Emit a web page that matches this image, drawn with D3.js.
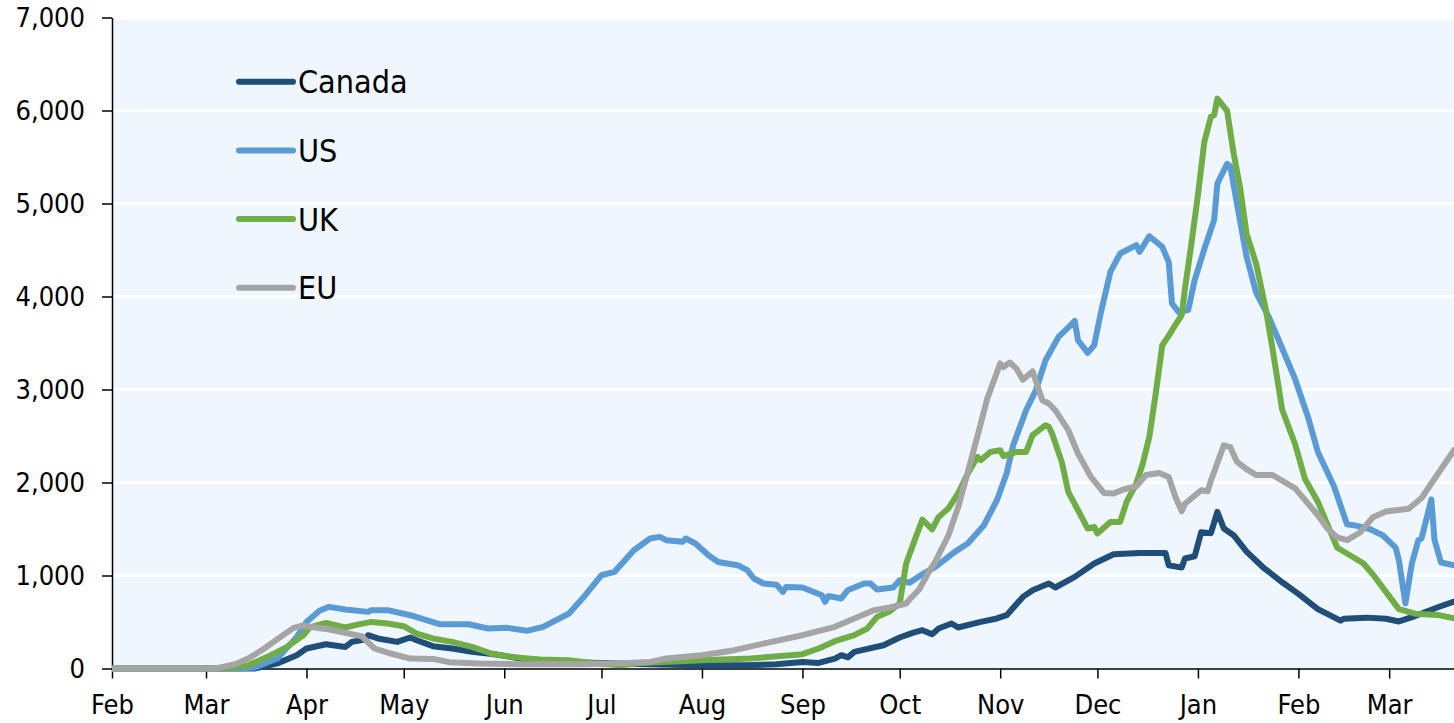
<!DOCTYPE html>
<html>
<head>
<meta charset="utf-8">
<script src="https://cdn.jsdelivr.net/npm/d3@7"></script>
<style>
  html, body { margin: 0; padding: 0; background: #ffffff; }
  svg { display: block; }
  text { font-family: "DejaVu Sans Condensed", "DejaVu Sans", sans-serif; fill: #000; }
</style>
</head>
<body>
<svg id="chart" width="1454" height="723"></svg>
<script>
// ---------------- DATA ----------------
const seriesNames = ["Canada", "US", "UK", "EU"];
const yTicks = [0, 1000, 2000, 3000, 4000, 5000, 6000, 7000];
const xStart = "2020-02-01";
const xEnd = "2021-03-21";

const canada = [
  ["2020-02-01",0],["2020-03-16",0],["2020-03-23",55],["2020-03-29",143],["2020-04-01",215],
  ["2020-04-07",261],["2020-04-13",232],["2020-04-15",286],["2020-04-19",312],["2020-04-20",358],
  ["2020-04-23",323],["2020-04-29",286],["2020-05-03",333],["2020-05-05",304],["2020-05-10",240],
  ["2020-05-16",215],["2020-05-22",179],["2020-05-29",154],["2020-06-06",107],["2020-06-17",71],
  ["2020-07-01",60],["2020-07-15",45],["2020-07-30",35],["2020-08-14",35],["2020-08-24",45],
  ["2020-09-01",71],["2020-09-06",60],["2020-09-11",107],["2020-09-13",143],["2020-09-15",120],
  ["2020-09-17",179],["2020-09-26",250],["2020-10-01",333],["2020-10-05",383],["2020-10-08",412],
  ["2020-10-11",369],["2020-10-13",430],["2020-10-17",484],["2020-10-19",441],["2020-10-26",501],
  ["2020-10-31",538],["2020-11-03",573],["2020-11-08",770],["2020-11-11",842],["2020-11-16",914],
  ["2020-11-18",871],["2020-11-24",985],["2020-11-30",1129],["2020-12-06",1229],["2020-12-14",1243],
  ["2020-12-22",1243],["2020-12-23",1111],["2020-12-27",1085],["2020-12-28",1183],["2020-12-31",1207],
  ["2021-01-02",1465],["2021-01-05",1455],["2021-01-07",1684],["2021-01-09",1505],["2021-01-12",1433],
  ["2021-01-16",1257],["2021-01-21",1091],["2021-01-27",927],["2021-02-01",803],["2021-02-07",639],
  ["2021-02-14",515],["2021-02-15",535],["2021-02-22",547],["2021-02-28",535],["2021-03-04",506],
  ["2021-03-09",564],["2021-03-16",659],["2021-03-21",720]
];

const us = [
  ["2020-02-01",0],["2020-03-11",0],["2020-03-16",10],["2020-03-23",107],["2020-03-29",340],
  ["2020-04-01",501],["2020-04-05",620],["2020-04-08",663],["2020-04-13",634],["2020-04-20",609],
  ["2020-04-21",627],["2020-04-26",627],["2020-05-03",573],["2020-05-12",476],["2020-05-21",476],
  ["2020-05-27",430],["2020-06-02",437],["2020-06-08",405],["2020-06-13",448],["2020-06-21",591],
  ["2020-06-26",788],["2020-07-01",1003],["2020-07-05",1039],["2020-07-11",1272],["2020-07-16",1398],
  ["2020-07-19",1415],["2020-07-21",1380],["2020-07-26",1362],["2020-07-27",1398],["2020-07-30",1344],
  ["2020-08-03",1218],["2020-08-06",1146],["2020-08-12",1111],["2020-08-15",1057],["2020-08-17",968],
  ["2020-08-20",914],["2020-08-24",900],["2020-08-26",824],["2020-08-27",877],["2020-09-01",871],
  ["2020-09-07",788],["2020-09-08",716],["2020-09-09",780],["2020-09-13",753],["2020-09-15",842],
  ["2020-09-20",914],["2020-09-22",914],["2020-09-24",849],["2020-09-29",871],["2020-10-01",949],
  ["2020-10-04",921],["2020-10-08",1014],["2020-10-12",1093],["2020-10-18",1254],["2020-10-22",1344],
  ["2020-10-27",1541],["2020-10-31",1810],["2020-11-03",2100],["2020-11-05",2400],["2020-11-09",2777],
  ["2020-11-12",2992],["2020-11-15",3315],["2020-11-19",3566],["2020-11-23",3700],["2020-11-24",3738],
  ["2020-11-25",3530],["2020-11-28",3394],["2020-11-30",3476],["2020-12-02",3817],["2020-12-05",4265],
  ["2020-12-08",4462],["2020-12-13",4552],["2020-12-14",4480],["2020-12-17",4648],["2020-12-21",4533],
  ["2020-12-23",4370],["2020-12-24",3925],["2020-12-26",3834],["2020-12-29",3853],["2020-12-31",4175],
  ["2021-01-03",4513],["2021-01-06",4821],["2021-01-07",5213],["2021-01-10",5427],["2021-01-11",5400],
  ["2021-01-13",5006],["2021-01-16",4430],["2021-01-19",4039],["2021-01-23",3771],["2021-01-26",3524],
  ["2021-01-31",3111],["2021-02-04",2699],["2021-02-07",2328],["2021-02-12",1957],["2021-02-16",1550],
  ["2021-02-18",1541],["2021-02-23",1500],["2021-02-27",1433],["2021-03-03",1300],["2021-03-04",1165],
  ["2021-03-06",700],["2021-03-08",1129],["2021-03-10",1380],["2021-03-11",1400],["2021-03-14",1817],
  ["2021-03-15",1380],["2021-03-17",1140],["2021-03-21",1110]
];

const uk = [
  ["2020-02-01",0],["2020-03-07",0],["2020-03-14",35],["2020-03-20",125],["2020-03-26",232],
  ["2020-03-31",358],["2020-04-02",441],["2020-04-07",490],["2020-04-13",441],["2020-04-16",466],
  ["2020-04-21",501],["2020-04-26",484],["2020-05-01",455],["2020-05-05",376],["2020-05-10",323],
  ["2020-05-16",286],["2020-05-22",232],["2020-05-28",161],["2020-06-03",125],["2020-06-12",97],
  ["2020-06-21",89],["2020-06-28",60],["2020-07-07",35],["2020-07-13",60],["2020-08-01",89],
  ["2020-08-16",107],["2020-09-01",154],["2020-09-06",215],["2020-09-11",294],["2020-09-17",358],
  ["2020-09-21",430],["2020-09-24",555],["2020-09-28",616],["2020-10-01",699],["2020-10-03",1129],
  ["2020-10-06",1415],["2020-10-08",1602],["2020-10-11",1495],["2020-10-13",1630],["2020-10-16",1720],
  ["2020-10-19",1882],["2020-10-22",2097],["2020-10-25",2275],["2020-10-26",2240],["2020-10-29",2329],
  ["2020-11-01",2347],["2020-11-02",2283],["2020-11-06",2329],["2020-11-09",2329],["2020-11-11",2509],
  ["2020-11-15",2616],["2020-11-16",2600],["2020-11-17",2527],["2020-11-20",2222],["2020-11-22",1899],
  ["2020-11-25",1702],["2020-11-28",1505],["2020-11-30",1523],["2020-12-01",1452],["2020-12-05",1576],
  ["2020-12-08",1576],["2020-12-10",1791],["2020-12-13",1989],["2020-12-15",2204],["2020-12-17",2490],
  ["2020-12-19",2960],["2020-12-21",3476],["2020-12-23",3580],["2020-12-25",3692],["2020-12-27",3800],
  ["2020-12-28",4086],["2020-12-30",4570],["2021-01-01",5090],["2021-01-03",5667],["2021-01-05",5934],
  ["2021-01-06",5950],["2021-01-07",6128],["2021-01-10",5996],["2021-01-12",5543],["2021-01-14",5172],
  ["2021-01-16",4677],["2021-01-19",4347],["2021-01-22",3853],["2021-01-24",3441],["2021-01-27",2782],
  ["2021-01-31",2411],["2021-02-03",2040],["2021-02-07",1792],["2021-02-10",1545],["2021-02-13",1298],
  ["2021-02-17",1215],["2021-02-21",1132],["2021-02-24",1010],["2021-02-28",824],["2021-03-04",639],
  ["2021-03-09",589],["2021-03-16",576],["2021-03-21",540]
];

const eu = [
  ["2020-02-01",0],["2020-03-04",0],["2020-03-10",46],["2020-03-14",107],["2020-03-19",215],
  ["2020-03-24",340],["2020-03-28",437],["2020-03-31",462],["2020-04-02",448],["2020-04-08",419],
  ["2020-04-13",383],["2020-04-18",347],["2020-04-22",215],["2020-04-27",161],["2020-05-03",107],
  ["2020-05-10",103],["2020-05-15",68],["2020-05-24",54],["2020-06-06",46],["2020-06-25",46],
  ["2020-07-09",60],["2020-07-16",71],["2020-07-21",107],["2020-08-01",143],["2020-08-11",197],
  ["2020-08-21",276],["2020-09-01",358],["2020-09-11",448],["2020-09-17",538],["2020-09-23",627],
  ["2020-09-28",656],["2020-10-03",699],["2020-10-04",740],["2020-10-07",850],["2020-10-10",1040],
  ["2020-10-12",1150],["2020-10-16",1430],["2020-10-19",1730],["2020-10-22",2110],["2020-10-25",2500],
  ["2020-10-28",2900],["2020-11-01",3280],["2020-11-02",3240],["2020-11-04",3290],["2020-11-06",3226],
  ["2020-11-08",3105],["2020-11-11",3195],["2020-11-14",2885],["2020-11-16",2850],["2020-11-18",2777],
  ["2020-11-22",2562],["2020-11-25",2312],["2020-11-29",2060],["2020-12-03",1888],["2020-12-06",1882],
  ["2020-12-09",1925],["2020-12-13",1960],["2020-12-16",2080],["2020-12-20",2103],["2020-12-23",2060],
  ["2020-12-25",1850],["2020-12-27",1690],["2020-12-28",1772],["2021-01-02",1916],["2021-01-04",1905],
  ["2021-01-05",2019],["2021-01-09",2400],["2021-01-11",2380],["2021-01-13",2225],["2021-01-16",2143],
  ["2021-01-19",2081],["2021-01-24",2081],["2021-01-27",2019],["2021-01-31",1937],["2021-02-03",1813],
  ["2021-02-07",1648],["2021-02-10",1504],["2021-02-13",1409],["2021-02-16",1380],["2021-02-20",1462],
  ["2021-02-24",1627],["2021-02-28",1689],["2021-03-07",1718],["2021-03-11",1833],["2021-03-15",2040],
  ["2021-03-17",2143],["2021-03-21",2348]
];

const seriesData = [canada, us, uk, eu];
const seriesColors = ["#1f4e79", "#5b9bd5", "#70ad47", "#a5a5a5"];

// ---------------- CHART ----------------
(function () {
const svg = d3.select("#chart");
const parse = d3.utcParse("%Y-%m-%d");
const plotLeft = 112, plotRight = 1454, plotTop = 17.5, plotBottom = 668.5;
const fontStack = '"DejaVu Sans Condensed", "DejaVu Sans", sans-serif';

const x = d3.scaleUtc().domain([parse(xStart), parse(xEnd)]).range([plotLeft, plotRight]);
const y = d3.scaleLinear().domain([0, 7000]).range([plotBottom, plotTop]);

// plot background
svg.append("rect")
  .attr("x", plotLeft).attr("y", y(7000) + 2)
  .attr("width", plotRight - plotLeft).attr("height", y(0) - y(7000) - 2)
  .attr("fill", "#eff6fd");

// gridlines
svg.append("g").selectAll("line")
  .data(yTicks.filter(t => t > 0 && t < 7000))
  .join("line")
  .attr("x1", plotLeft).attr("x2", plotRight)
  .attr("y1", d => y(d)).attr("y2", d => y(d))
  .attr("stroke", "#ffffff").attr("stroke-width", 3);

// y axis
const yAxis = d3.axisLeft(y)
  .tickValues(yTicks)
  .tickFormat(d3.format(","))
  .tickSize(10)
  .tickSizeOuter(0)
  .tickPadding(17);
const gy = svg.append("g").attr("transform", `translate(${plotLeft},0)`).call(yAxis);
gy.select(".domain").attr("stroke", "#000").attr("stroke-width", 1.5);
gy.selectAll(".tick line").attr("stroke", "#000").attr("stroke-width", 1.5);
gy.selectAll(".tick text")
  .style("font-family", fontStack)
  .style("font-size", "27px").attr("fill", "#000");

// x axis
const xAxis = d3.axisBottom(x)
  .ticks(d3.utcMonth.every(1))
  .tickFormat(d3.utcFormat("%b"))
  .tickSize(10)
  .tickSizeOuter(0)
  .tickPadding(16);
const gx = svg.append("g").attr("transform", `translate(0,${plotBottom})`).call(xAxis);
gx.select(".domain").attr("stroke", "#000").attr("stroke-width", 1.5);
gx.selectAll(".tick line").attr("stroke", "#000").attr("stroke-width", 1.5);
gx.selectAll(".tick text")
  .style("font-family", fontStack)
  .style("font-size", "27px").attr("fill", "#000");

// series
const line = d3.line()
  .x(d => x(parse(d[0])))
  .y(d => y(d[1]))
  .curve(d3.curveLinear);

svg.append("defs").append("clipPath").attr("id", "clip")
  .append("rect").attr("x", plotLeft).attr("y", 0).attr("width", plotRight - plotLeft).attr("height", plotBottom + 4);

svg.append("g").attr("clip-path", "url(#clip)")
  .selectAll("path")
  .data(seriesData)
  .join("path")
  .attr("d", d => line(d))
  .attr("fill", "none")
  .attr("stroke", (d, i) => seriesColors[i])
  .attr("stroke-width", 6)
  .attr("stroke-linejoin", "round")
  .attr("stroke-linecap", "round");

// legend
const legend = svg.append("g");
const lg = legend.selectAll("g").data(seriesNames).join("g")
  .attr("transform", (d, i) => `translate(236,${81.7 + i * 68.7})`);
lg.append("line")
  .attr("x1", 3).attr("x2", 57).attr("y1", 0).attr("y2", 0)
  .attr("stroke", (d, i) => seriesColors[i])
  .attr("stroke-width", 6).attr("stroke-linecap", "round");
lg.append("text")
  .attr("x", 62).attr("y", 0).attr("dy", "0.36em")
  .style("font-family", fontStack)
  .style("font-size", "32px")
  .text(d => d);
})();
</script>
</body>
</html>
